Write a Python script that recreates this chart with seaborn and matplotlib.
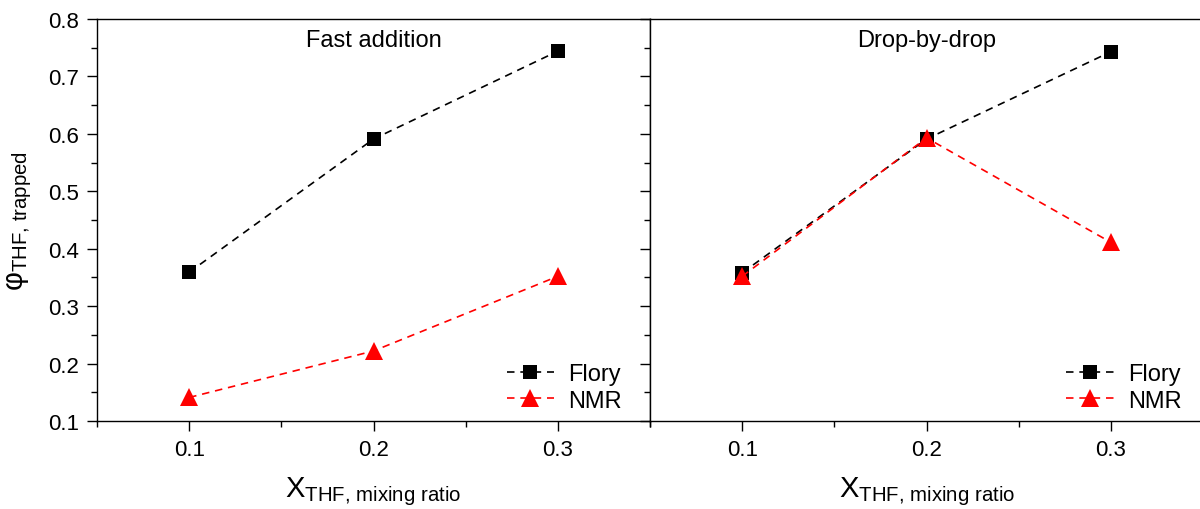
import pandas as pd
import matplotlib.pyplot as plt
import seaborn as sns
from matplotlib.ticker import MultipleLocator

# values
x_ratio = [0.1, 0.2, 0.3]
fast_flory = [0.359, 0.591, 0.744]
fast_nmr = [0.141, 0.222, 0.352]
drop_flory = [0.358, 0.591, 0.743]
drop_nmr = [0.352, 0.593, 0.411]
panel_titles = ["Fast addition", "Drop-by-drop"]
tick_x = [0.1, 0.2, 0.3]
tick_y = [0.1, 0.2, 0.3, 0.4, 0.5, 0.6, 0.7, 0.8]

sns.set_theme(style="ticks")
plt.rcParams["font.family"] = ["Liberation Sans", "DejaVu Sans"]
plt.rcParams["mathtext.fontset"] = "custom"
plt.rcParams["mathtext.rm"] = "Liberation Sans"
plt.rcParams["mathtext.it"] = "Liberation Sans"
plt.rcParams["text.color"] = "black"
plt.rcParams["axes.labelcolor"] = "black"
plt.rcParams["xtick.color"] = "black"
plt.rcParams["ytick.color"] = "black"

fig = plt.figure(figsize=(12, 5.1), dpi=100)
ax1 = fig.add_axes([0.0808, 0.1725, 0.4609, 0.7883])
ax2 = fig.add_axes([0.5417, 0.1725, 0.4609, 0.7883])

panels = [(ax1, fast_flory, fast_nmr, 0.966), (ax2, drop_flory, drop_nmr, 0.978)]
for i, (ax, flory, nmr, lx) in enumerate(panels):
    df = pd.DataFrame({"x": x_ratio, "Flory": flory, "NMR": nmr})
    sns.lineplot(data=df, x="x", y="Flory", ax=ax, color="black", marker="s",
                 markersize=10, markeredgewidth=0, linestyle=(0, (4.5, 3.5)),
                 linewidth=1.2, label="Flory")
    sns.lineplot(data=df, x="x", y="NMR", ax=ax, color="#ff0000", marker="^",
                 markersize=13, markeredgewidth=0, linestyle=(0, (4.5, 3.5)),
                 linewidth=1.2, label="NMR")
    ax.set_xlim(0.05, 0.35)
    ax.set_ylim(0.1, 0.8)
    ax.xaxis.set_minor_locator(MultipleLocator(0.05))
    ax.yaxis.set_minor_locator(MultipleLocator(0.05))
    ax.set_xticks(tick_x)
    ax.set_xticklabels([f"{v:.1f}" for v in tick_x])
    ax.tick_params(axis="both", which="major", direction="out", length=7,
                   width=1, labelsize=16, pad=6)
    ax.tick_params(axis="both", which="minor", direction="out", length=4,
                   width=1)
    for s in ax.spines.values():
        s.set_color("black")
        s.set_linewidth(1)
    ax.set_xlabel(r"$\mathregular{X_{THF{,}\ mixing\ ratio}}$", fontsize=21,
                  labelpad=10)
    ax.set_ylabel("")
    ax.text(0.5, 0.975, panel_titles[i], transform=ax.transAxes,
            ha="center", va="top", fontsize=17)
    ax.legend(loc="lower right", bbox_to_anchor=(lx, 0.0), frameon=False,
              fontsize=17, handlelength=2.0, handletextpad=0.6,
              borderaxespad=0.0, labelspacing=0.2)

ax1.set_yticks(tick_y)
ax1.set_yticklabels([f"{v:.1f}" for v in tick_y])
ax2.set_yticks(tick_y)
ax2.tick_params(axis="y", labelleft=False)
ax1.set_ylabel("\u03c6$\\mathregular{_{THF{,}\\ trapped}}$", fontsize=21,
               labelpad=10)

fig.savefig("out.png", dpi=100)
